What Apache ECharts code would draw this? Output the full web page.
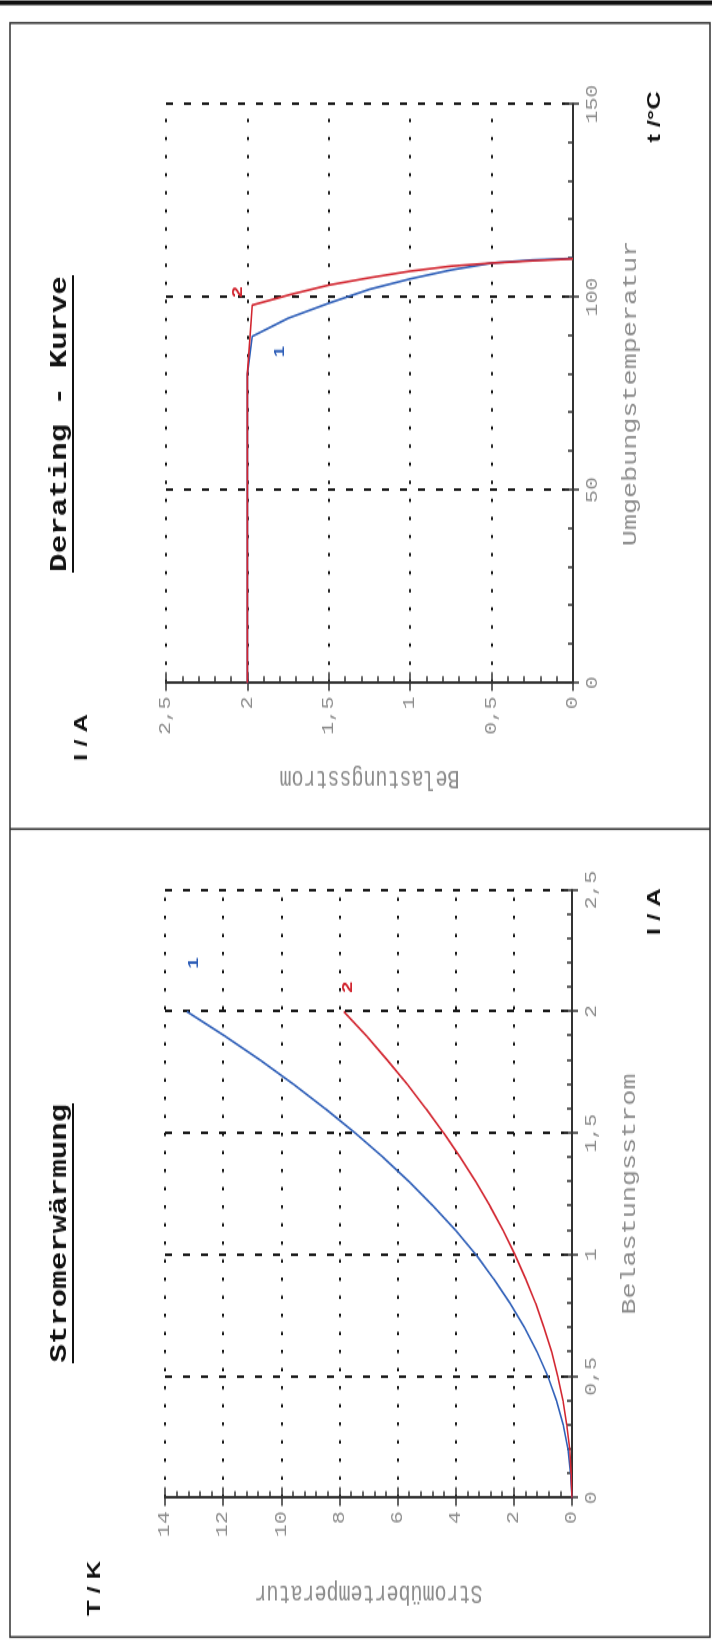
<!DOCTYPE html>
<html>
<head>
<meta charset="utf-8">
<script src="https://cdn.jsdelivr.net/npm/echarts/dist/echarts.min.js"></script>
<style>
html,body{margin:0;padding:0;background:#fff;width:712px;height:1642px;overflow:hidden;}
#chart{position:absolute;left:0;top:0;height:712px;transform-origin:0 0;}
</style>
</head>
<body>
<div id="chart"></div>
<script>
// ---------- data ----------
// Left chart: Stromerwärmung (temperature rise vs load current)
const stromCurrent = [0, 0.1, 0.2, 0.3, 0.4, 0.5, 0.6, 0.7, 0.8, 0.9, 1.0, 1.1, 1.2, 1.3, 1.4, 1.5, 1.6, 1.7, 1.8, 1.9, 2.0];
const stromTemp1 = [0, 0.05, 0.14, 0.3, 0.53, 0.83, 1.2, 1.63, 2.13, 2.69, 3.3, 4.0, 4.77, 5.6, 6.49, 7.45, 8.48, 9.57, 10.72, 11.95, 13.25];
const stromTemp2 = [0, 0.03, 0.08, 0.18, 0.31, 0.49, 0.7, 0.96, 1.25, 1.59, 1.96, 2.37, 2.82, 3.31, 3.84, 4.41, 5.02, 5.66, 6.35, 7.07, 7.85];
// Right chart: Derating - Kurve (load current vs ambient temperature)
const deratingTemp1 = [0, 20, 40, 60, 80, 89.8, 94.5, 98.4, 102, 104.7, 107, 108.8, 109.6, 110];
const deratingCurrent1 = [2, 2, 2, 2, 2, 1.97, 1.75, 1.5, 1.25, 1.0, 0.75, 0.5, 0.25, 0];
const deratingTemp2 = [0, 20, 40, 60, 80, 97.9, 100.6, 103.1, 105, 106.7, 108, 108.8, 109.4, 109.9];
const deratingCurrent2 = [2, 2, 2, 2, 2, 1.97, 1.74, 1.5, 1.25, 1.0, 0.75, 0.5, 0.25, 0];
// tick values
const currentTicks = [0, 0.5, 1, 1.5, 2, 2.5];
const riseTicks = [0, 2, 4, 6, 8, 10, 12, 14];
const ambientTicks = [0, 50, 100, 150];
// curve tags [x, y]
const stromTag1 = [2.2, 13.0];
const stromTag2 = [2.1, 7.7];
const deratingTag1 = [85.8, 1.80];
const deratingTag2 = [101.3, 2.06];

// ---------- layout ----------
const S = 1.34;                 // horizontal stretch of the original landscape drawing
const W = 1642 / S;
const el = document.getElementById('chart');
el.style.width = W + 'px';
el.style.transform = 'translate(0,1642px) rotate(-90deg) scale(' + S + ',1)';

const MONO = '"Liberation Mono", "DejaVu Sans Mono", monospace';
const SANS = '"Liberation Sans", Arial, sans-serif';
const GRAY = '#8c8c8c';
const AX = '#333';
const fmt = v => String(v).replace('.', ',');

function axis(kind, gridIndex, ticks, name, nameGap, dash) {
  const step = ticks[1] - ticks[0];
  const a = {
    gridIndex: gridIndex, type: 'value',
    min: ticks[0], max: ticks[ticks.length - 1], interval: step,
    position: kind === 'x' ? 'bottom' : 'left',
    axisLine: {show: true, onZero: false, lineStyle: {color: AX, width: 2}},
    axisTick: {show: true, inside: true, length: 8, lineStyle: {color: AX, width: 1.5}},
    minorTick: {show: true, splitNumber: 5, length: 5, lineStyle: {color: AX, width: 1.5}},
    splitLine: {show: true, lineStyle: {color: '#1a1a1a', width: 2, type: dash}},
    axisLabel: {color: GRAY, fontFamily: MONO, fontSize: 16, margin: kind === 'x' ? 12 : 10, formatter: fmt},
    name: name, nameLocation: 'middle', nameGap: nameGap,
    nameTextStyle: {color: GRAY, fontFamily: MONO, fontSize: 20}
  };
  if (kind === 'y') a.nameRotate = 90;
  return a;
}
function dup(kind, gridIndex, ticks) {
  const step = ticks[1] - ticks[0];
  return {
    gridIndex: gridIndex, type: 'value',
    min: ticks[0], max: ticks[ticks.length - 1], interval: step,
    position: kind === 'x' ? 'bottom' : 'left',
    axisLine: {show: false}, axisLabel: {show: false}, splitLine: {show: false},
    axisTick: {show: true, inside: false, length: 6, lineStyle: {color: AX, width: 1.5}},
    minorTick: {show: false}
  };
}

const xy = (xs, ys) => xs.map((x, i) => [x, ys[i]]);
const tag = (pos, text, color) => ({
  symbol: 'circle', symbolSize: 0, silent: true,
  label: {show: true, formatter: text, color: color, fontFamily: SANS, fontWeight: 'bold', fontSize: 15},
  data: [{coord: pos}]
});
const BLUE = '#2f5fb8';
const RED = '#d22630';

const option = {
  animation: false,
  backgroundColor: '#fff',
  grid: [
    {left: 107.5, top: 165, width: 453.7, height: 407},
    {left: 715.7, top: 166, width: 432, height: 407}
  ],
  xAxis: [
    axis('x', 0, currentTicks, 'Belastungsstrom', 48, [7, 11]),
    dup('x', 0, currentTicks),
    axis('x', 1, ambientTicks, 'Umgebungstemperatur', 48, [7, 11]),
    dup('x', 1, ambientTicks)
  ],
  yAxis: [
    axis('y', 0, riseTicks, 'Stromübertemperatur', 61, [2.5, 11]),
    dup('y', 0, riseTicks),
    axis('y', 1, currentTicks, 'Belastungsstrom', 61, [2.5, 11]),
    dup('y', 1, currentTicks)
  ],
  series: [
    {type: 'line', xAxisIndex: 0, yAxisIndex: 0, data: xy(stromCurrent, stromTemp1), showSymbol: false,
     lineStyle: {color: BLUE, width: 1.6}, itemStyle: {color: BLUE}, markPoint: tag(stromTag1, '1', BLUE)},
    {type: 'line', xAxisIndex: 0, yAxisIndex: 0, data: xy(stromCurrent, stromTemp2), showSymbol: false,
     lineStyle: {color: RED, width: 1.6}, itemStyle: {color: RED}, markPoint: tag(stromTag2, '2', RED)},
    {type: 'line', xAxisIndex: 2, yAxisIndex: 2, data: xy(deratingTemp1, deratingCurrent1), showSymbol: false,
     lineStyle: {color: BLUE, width: 1.6}, itemStyle: {color: BLUE}, markPoint: tag(deratingTag1, '1', BLUE)},
    {type: 'line', xAxisIndex: 2, yAxisIndex: 2, data: xy(deratingTemp2, deratingCurrent2), showSymbol: false,
     lineStyle: {color: RED, width: 1.6}, itemStyle: {color: RED}, markPoint: tag(deratingTag2, '2', RED)}
  ],
  graphic: [
    {type: 'rect', silent: true, shape: {x: 3.7, y: 10, width: 1204.5, height: 700},
     style: {fill: 'none', stroke: '#333', lineWidth: 1.5}},
    {type: 'line', silent: true, shape: {x1: 606.7, y1: 10, x2: 606.7, y2: 710},
     style: {stroke: '#333', lineWidth: 1.5}},
    {type: 'rect', silent: true, shape: {x: 1221.5, y: 0, width: 4, height: 712}, style: {fill: '#111'}},
    {type: 'text', silent: true, x: 305, y: 60,
     style: {text: 'Stromerwärmung', fontFamily: MONO, fontWeight: 'bold', fontSize: 23, fill: '#111', align: 'center', verticalAlign: 'middle'}},
    {type: 'line', silent: true, shape: {x1: 305 - 97, y1: 73, x2: 305 + 97, y2: 73}, style: {stroke: '#111', lineWidth: 2}},
    {type: 'text', silent: true, x: 909, y: 60,
     style: {text: 'Derating - Kurve', fontFamily: MONO, fontWeight: 'bold', fontSize: 23, fill: '#111', align: 'center', verticalAlign: 'middle'}},
    {type: 'line', silent: true, shape: {x1: 909 - 111, y1: 73, x2: 909 + 111, y2: 73}, style: {stroke: '#111', lineWidth: 2}},
    {type: 'text', silent: true, x: 40, y: 95,
     style: {text: 'T / K', fontFamily: SANS, fontWeight: 'bold', fontSize: 19, fill: '#111', align: 'center', verticalAlign: 'middle'}},
    {type: 'text', silent: true, x: 545, y: 655,
     style: {text: 'I / A', fontFamily: SANS, fontWeight: 'bold', fontSize: 19, fill: '#111', align: 'center', verticalAlign: 'middle'}},
    {type: 'text', silent: true, x: 675, y: 82,
     style: {text: 'I / A', fontFamily: SANS, fontWeight: 'bold', fontSize: 19, fill: '#111', align: 'center', verticalAlign: 'middle'}},
    {type: 'text', silent: true, x: 1138, y: 655,
     style: {text: 't /°C', fontFamily: SANS, fontWeight: 'bold', fontSize: 19, fill: '#111', align: 'center', verticalAlign: 'middle'}}
  ]
};

const chart = echarts.init(el, null, {renderer: 'canvas'});
chart.setOption(option);
</script>
</body>
</html>
